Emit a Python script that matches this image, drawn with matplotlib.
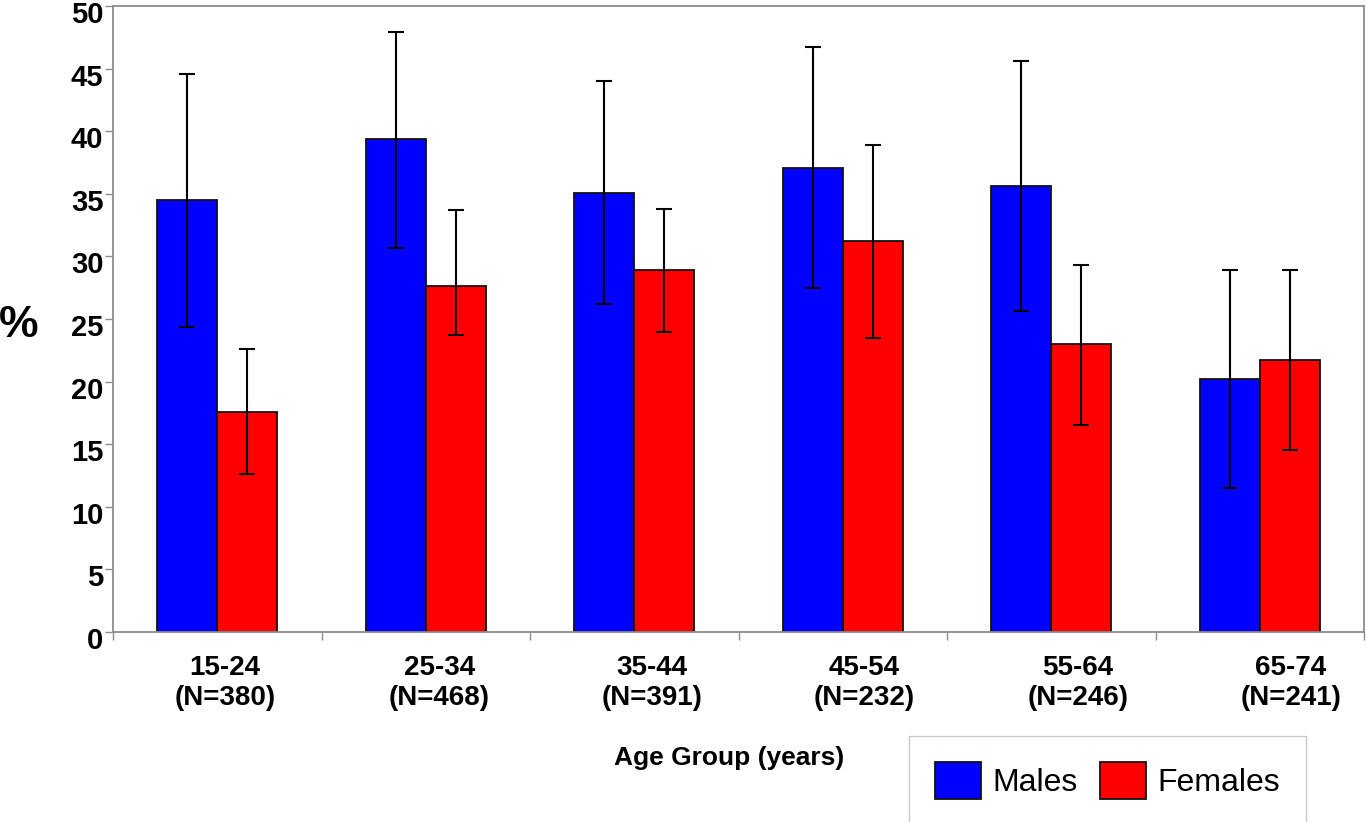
import numpy as np
import matplotlib
matplotlib.use('Agg')
import matplotlib.pyplot as plt
from matplotlib.patches import Patch
from matplotlib.transforms import ScaledTranslation

# datos
age_groups = ['15-24', '25-34', '35-44', '45-54', '55-64', '65-74']
n_values = [380, 468, 391, 232, 246, 241]

males = np.array([34.5, 39.4, 35.1, 37.1, 35.6, 20.2])
males_upper = np.array([44.6, 47.9, 44.0, 46.7, 45.6, 28.9])
males_lower = np.array([24.4, 30.7, 26.2, 27.5, 25.6, 11.5])

females = np.array([17.6, 27.6, 28.9, 31.2, 23.0, 21.7])
females_upper = np.array([22.6, 33.7, 33.8, 38.9, 29.3, 28.9])
females_lower = np.array([12.6, 23.7, 24.0, 23.5, 16.5, 14.5])

plt.rcParams['font.family'] = ['Liberation Sans', 'DejaVu Sans']

fig = plt.figure(figsize=(13.66, 8.22), dpi=100)
ax = fig.add_axes([113 / 1366, 190 / 822, 1251 / 1366, 626 / 822])

x = np.arange(len(age_groups))
w = 0.288
gris = '#8c8c8c'

err_m = [males - males_lower, males_upper - males]
err_f = [females - females_lower, females_upper - females]

ax.bar(x - w / 2, males, w, color='#0000ff', edgecolor='#111111', linewidth=1.3, zorder=2)
ax.bar(x + w / 2, females, w, color='#ff0000', edgecolor='#111111', linewidth=1.3, zorder=2)
ax.errorbar(x - w / 2, males, yerr=err_m, fmt='none', ecolor='black',
            elinewidth=1.5, capsize=5.5, capthick=1.5, zorder=3)
ax.errorbar(x + w / 2, females, yerr=err_f, fmt='none', ecolor='black',
            elinewidth=1.5, capsize=5.5, capthick=1.5, zorder=3)

ax.set_xlim(-0.5, len(age_groups) - 0.5)
ax.set_ylim(0, 50)
ax.set_yticks(np.arange(0, 51, 5))
ax.tick_params(axis='y', direction='out', length=6, color=gris, width=1, pad=1,
               labelsize=21)
# en el original las cifras quedan un poco por debajo de cada marca
bajar = ScaledTranslation(0, -0.06, fig.dpi_scale_trans)
for lab in ax.get_yticklabels():
    lab.set_fontweight('bold')
    lab.set_transform(lab.get_transform() + bajar)

# marcas en los limites de cada grupo, sin etiquetas
ax.set_xticks(np.arange(-0.5, len(age_groups), 1.0))
ax.set_xticklabels([])
ax.tick_params(axis='x', direction='out', length=6, color=gris, width=1)

for s in ax.spines.values():
    s.set_color(gris)
    s.set_linewidth(1.3)

# etiquetas de grupo desplazadas como en el original
label_shift = [0.036, 0.065, 0.084, 0.103, 0.129, 0.148]
for i, (g, n) in enumerate(zip(age_groups, n_values)):
    ax.text(i + label_shift[i], -0.082, f'{g}\n(N={n})', transform=ax.get_xaxis_transform(),
            ha='center', va='center', multialignment='center', fontsize=20,
            fontweight='bold', linespacing=1.2)

fig.text(729 / 1366, 1 - 758 / 822, 'Age Group (years)', ha='center', va='center',
         fontsize=19, fontweight='bold')
fig.text(19 / 1366, 1 - 325 / 822, '%', ha='center', va='center', fontsize=32,
         fontweight='bold')

handles = [Patch(facecolor='#0000ff', edgecolor='#111111', linewidth=1.3, label='Males'),
           Patch(facecolor='#ff0000', edgecolor='#111111', linewidth=1.3, label='Females')]
leg = fig.legend(handles=handles, loc='center', ncol=2,
                 bbox_to_anchor=((907 + 1308) / 2 / 1366, 1 - (740 + 821) / 2 / 822),
                 fontsize=23, frameon=True, fancybox=False, handlelength=1.45,
                 handleheight=1.4, handletextpad=0.35, columnspacing=0.7,
                 borderpad=0.8, borderaxespad=0)
leg.get_frame().set_edgecolor('#bbbbbb')
leg.get_frame().set_linewidth(1.0)

fig.savefig('out.png', dpi=100)
